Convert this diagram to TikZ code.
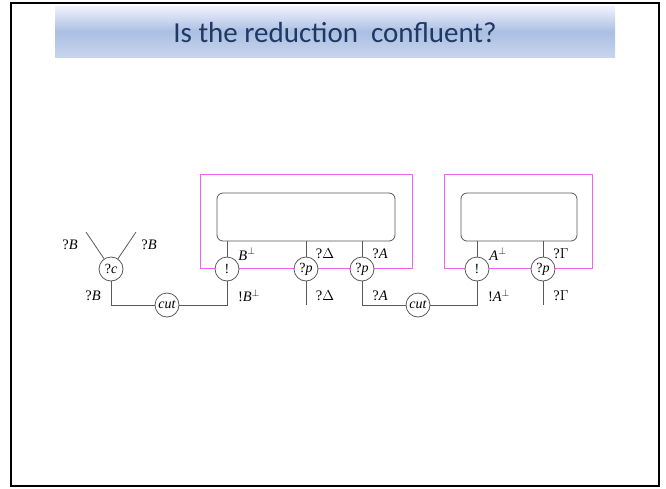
\documentclass[tikz,border=0pt]{standalone}
\usepackage{fontspec}
\setmainfont{Liberation Serif}
\newfontfamily\titlefont{Carlito}
\definecolor{wire}{HTML}{5A5A5A}
\definecolor{magbox}{HTML}{EE66EE}
\definecolor{titleblue}{HTML}{1F3864}
\begin{document}
\begin{tikzpicture}[x=1pt,y=-1pt,
  wirestyle/.style={draw=wire,line width=0.8pt},
  gate/.style={circle,draw=wire,fill=white,line width=0.8pt,minimum size=24pt,inner sep=0pt,font=\fontsize{14}{14}\selectfont},
  lbl/.style={font=\fontsize{14.5}{14.5}\selectfont,inner sep=0pt},
  magstyle/.style={draw=magbox,line width=0.8pt},
  boxstyle/.style={draw=wire,line width=0.8pt,rounded corners=6pt}]
\useasboundingbox (0,0) rectangle (666,488);
\fill[white] (0,0) rectangle (666,488);
% title banner
\shade[top color=blue!5!white, bottom color={rgb,255:red,200;green,212;blue,236}, middle color={rgb,255:red,170;green,191;blue,226}] (55,6) rectangle (615,57);
\node[font=\titlefont\fontsize{29}{29}\selectfont, text=titleblue] (title) at (335,33) {Is the reduction\ \ confluent?};
% frame
\draw[line width=2pt] (11,3) rectangle (659,486);
% magenta boxes and rounded boxes
\draw[magstyle] (200,174) rectangle (412,268);
\draw[magstyle] (444,174) rectangle (592,268);
\node[boxstyle,minimum width=178pt,minimum height=48pt] (box1) at (306,217) {};
\node[boxstyle,minimum width=116pt,minimum height=48pt] (box2) at (519,217) {};
% gates
\node[gate] (c) at (111,269) {?\textit{c}};
\node[gate] (cut1) at (167,305) {\textit{cut}};
\node[gate] (b1) at (227,269) {!};
\node[gate] (p1) at (306,269) {?\textit{p}};
\node[gate] (p2) at (362,269) {?\textit{p}};
\node[gate] (cut2) at (418,305) {\textit{cut}};
\node[gate] (b2) at (477,269) {!};
\node[gate] (p3) at (543,269) {?\textit{p}};
% free ends
\coordinate (vl) at (86,232);
\coordinate (vr) at (136,232);
\coordinate (e1) at (306,305);
\coordinate (e2) at (543,305);
% wires
\draw[wirestyle] (vl) -- (c);
\draw[wirestyle] (vr) -- (c);
\draw[wirestyle] (c) |- (cut1);
\draw[wirestyle] (cut1) -| (b1);
\draw[wirestyle] (b1) -- (b1 |- box1.south);
\draw[wirestyle] (p1) -- (p1 |- box1.south);
\draw[wirestyle] (p2) -- (p2 |- box1.south);
\draw[wirestyle] (p1) -- (e1);
\draw[wirestyle] (p2) |- (cut2);
\draw[wirestyle] (cut2) -| (b2);
\draw[wirestyle] (b2) -- (b2 |- box2.south);
\draw[wirestyle] (p3) -- (p3 |- box2.south);
\draw[wirestyle] (p3) -- (e2);
% labels
\node[lbl] (l1) at (70,245) {?\textit{B}};
\node[lbl] (l2) at (149,245) {?\textit{B}};
\node[lbl] (l3) at (93,296) {?\textit{B}};
\node[lbl] (l4) at (247,254) {\textit{B}$^{\perp}$};
\node[lbl] (l5) at (325,254) {?$\Delta$};
\node[lbl] (l6) at (380,254) {?\textit{A}};
\node[lbl] (l7) at (249,296) {!\textit{B}$^{\perp}$};
\node[lbl] (l8) at (325,296) {?$\Delta$};
\node[lbl] (l9) at (380,296) {?\textit{A}};
\node[lbl] (l10) at (498,254) {\textit{A}$^{\perp}$};
\node[lbl] (l11) at (561,254) {?$\Gamma$};
\node[lbl] (l12) at (499,296) {!\textit{A}$^{\perp}$};
\node[lbl] (l13) at (561,296) {?$\Gamma$};
\end{tikzpicture}
\end{document}
